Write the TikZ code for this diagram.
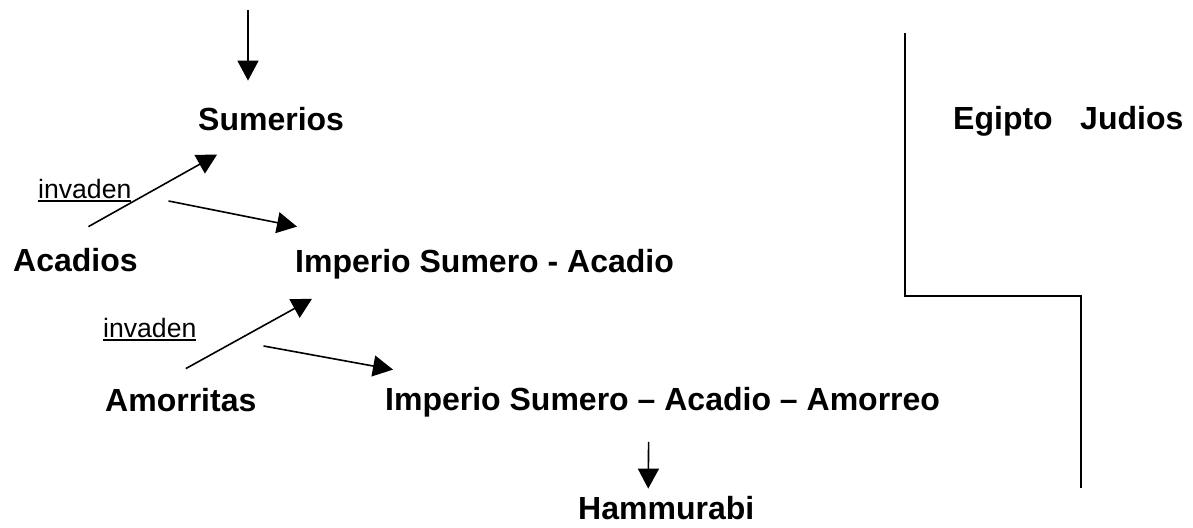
\documentclass[tikz,border=0pt]{standalone}
\usepackage{fontspec}
\setmainfont{Liberation Sans}
\usepackage{tikz}
\usetikzlibrary{arrows.meta}
\tikzstyle{bigtext} = [anchor = base west, inner sep = 0pt, font = \fontsize{32}{38}\selectfont\bfseries]
\tikzstyle{smalltext} = [anchor = base west, inner sep = 0pt, font = \fontsize{26.6}{32}\selectfont]
\tikzstyle{histarrow} = [-{Triangle[length = 20pt, width = 21pt]}, line width = 1.6pt]
\tikzstyle{divider} = [line width = 1.6pt]
\newcommand{\invul}[1]{\setbox0=\hbox{#1}\rlap{\rule[-4pt]{\wd0}{1.8pt}}\box0}

\begin{document}
\begin{tikzpicture}[x = 1pt, y = -1pt]
\useasboundingbox (0, 0) rectangle (1193, 527);
\node[bigtext] (sum) at (198, 130) {Sumerios};
\node[bigtext] (egi) at (953, 129) {Egipto};
\node[bigtext] (jud) at (1080, 129) {Judios};
\node[smalltext] (inv1) at (38, 198) {\invul{invaden}};
\node[bigtext] (aca) at (13, 271) {Acadios};
\node[bigtext] (isa) at (295, 272) {Imperio Sumero - Acadio};
\node[smalltext] (inv2) at (103, 337) {\invul{invaden}};
\node[bigtext] (amo) at (105, 411) {Amorritas};
\node[bigtext] (isaa) at (385, 410) {Imperio Sumero -- Acadio -- Amorreo};
\node[bigtext] (ham) at (578, 519) {Hammurabi};
\coordinate (top) at (248, 10);
% arrows
\draw[histarrow, shorten > = 26pt] (top) -- (top |- sum.north);
\draw[histarrow] ([shift = {(13, -21)}]aca.north) -- ([shift = {(-54, 24)}]sum.south);
\draw[histarrow] ([shift = {(37, 3)}]inv1.base east) -- ([shift = {(2, -22)}]isa.north west);
\draw[histarrow] ([shift = {(5, -19)}]amo.north) -- ([shift = {(17, 20)}]isa.south west);
\draw[histarrow] ([shift = {(67, 9)}]inv2.base east) -- ([shift = {(8, -17)}]isaa.north west);
\draw[histarrow] ([shift = {(-14, 25)}]isaa.south) -- ([shift = {(-18, -7)}]ham.north);
% divider
\draw[divider] (905, 33) -- (905, 296) -- (1081, 296) -- (1081, 488);
\end{tikzpicture}
\end{document}
